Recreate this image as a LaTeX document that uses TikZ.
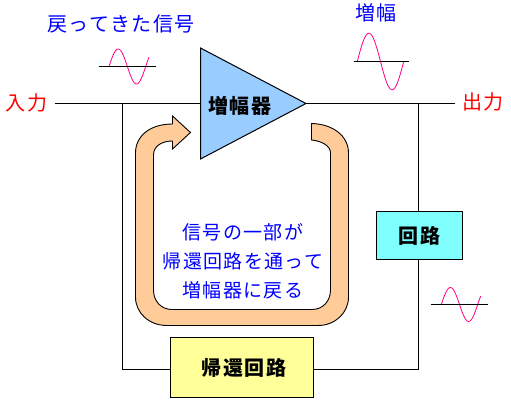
\documentclass[tikz,border=0pt]{standalone}
\usepackage{fontspec}
\usepackage{xcolor}
\usetikzlibrary{arrows.meta,positioning,shapes.geometric}
\newfontfamily\cjk[LetterSpace=7]{Noto Sans CJK JP}
\definecolor{ampblue}{HTML}{99CCFF}
\definecolor{looppeach}{HTML}{FFCC99}
\definecolor{fbyellow}{HTML}{FFFF99}
\definecolor{circuitcyan}{HTML}{80FFFF}
\definecolor{wavepink}{HTML}{FF0080}

\begin{document}
\begin{tikzpicture}[x=1pt,y=-1pt,
    wire/.style={draw=black,line width=1pt},
    block/.style={draw=black,line width=1pt,inner sep=0pt,outer sep=0pt},
    blacklabel/.style={inner sep=0pt,font=\cjk\bfseries\fontsize{20}{22}\selectfont},
    redlabel/.style={text=red,inner sep=0pt,font=\cjk\fontsize{20}{22}\selectfont},
    bluelabel/.style={text=blue,inner sep=0pt,font=\cjk\fontsize{20}{22}\selectfont}
]
\useasboundingbox (0,0) rectangle (511,404);
\fill[white] (0,0) rectangle (511,404);

\path[draw=black,line width=0.9pt,fill=looppeach,line join=miter]
    (172.5,116) -- (190.5,132.5) -- (172.5,149) -- (172.5,141)
    .. controls (162,141) and (153.5,146) .. (153.5,155) -- (153.5,290)
    .. controls (153.5,301) and (161,309.5) .. (172,309.5) -- (312,309.5)
    .. controls (323,309.5) and (330.5,301) .. (330.5,290) -- (330.5,153)
    .. controls (330.5,146) and (322,141) .. (311.5,140) -- (311.5,123.5)
    .. controls (333,124) and (348.5,136) .. (348.5,153) -- (348.5,297)
    .. controls (348.5,313) and (335,325.5) .. (318,325.5) -- (167,325.5)
    .. controls (149,325.5) and (135.5,313) .. (135.5,297) -- (135.5,153)
    .. controls (135.5,136) and (150,124) .. (172.5,124) -- cycle;

\node[isosceles triangle,isosceles triangle stretches,block,fill=ampblue,
    minimum width=111pt,minimum height=105.5pt,anchor=apex] (amp) at (306,103.5) {};
\node[blacklabel] (amptext) at (240,106) {増幅器};
\node[block,fill=fbyellow,minimum width=143pt,minimum height=60pt] (feedback) at (242,367.5) {};
\node[blacklabel] (feedbacktext) at (244,368) {帰還回路};
\node[block,fill=circuitcyan,minimum width=86pt,minimum height=48pt,blacklabel] (circuit) at (419.5,235.5) {回路};

\node[redlabel] (input) at (26.5,103) {入力};
\node[redlabel] (output) at (483,102) {出力};
\node[bluelabel] (returned) at (121,24) {戻ってきた信号};
\node[bluelabel] (gain) at (376,13) {増幅};
\node[text=blue,inner sep=0pt,align=center,font=\cjk\fontsize{19}{29}\selectfont] (note) at (243,261) {信号の一部が\\帰還回路を通って\\増幅器に戻る};

\coordinate (instart) at (55,103.5);
\coordinate (outend) at (455,103.5);
\coordinate (split) at (122.5,103.5);
\coordinate (join) at (418.5,103.5);
\coordinate (bend) at (122.5,369.5);
\draw[wire] (instart) -- (split) -- (amp.west |- instart);
\draw[wire] (amp.apex) -- (outend);
\draw[wire] (split) |- (feedback.west |- bend);
\draw[wire] (feedback.east |- bend) -| (circuit.south -| join);
\draw[wire] (circuit.north -| join) -- (join);

\foreach \axl/\axr/\axy/\wx/\wlen/\amp/\wend in {99/156/66.5/109/36.7/17.5/392, 354/408.7/61.5/357.3/46.4/28.3/360, 431/487.7/304.5/441.3/36.4/17/390}{
    \draw[line width=0.8pt,wavepink] plot[domain=0:\wend,samples=50,smooth] ({\wx+\x/360*\wlen},{\axy-\amp*sin(\x)});
    \draw[line width=1pt] (\axl,\axy) -- (\axr,\axy);
}
\end{tikzpicture}
\end{document}
